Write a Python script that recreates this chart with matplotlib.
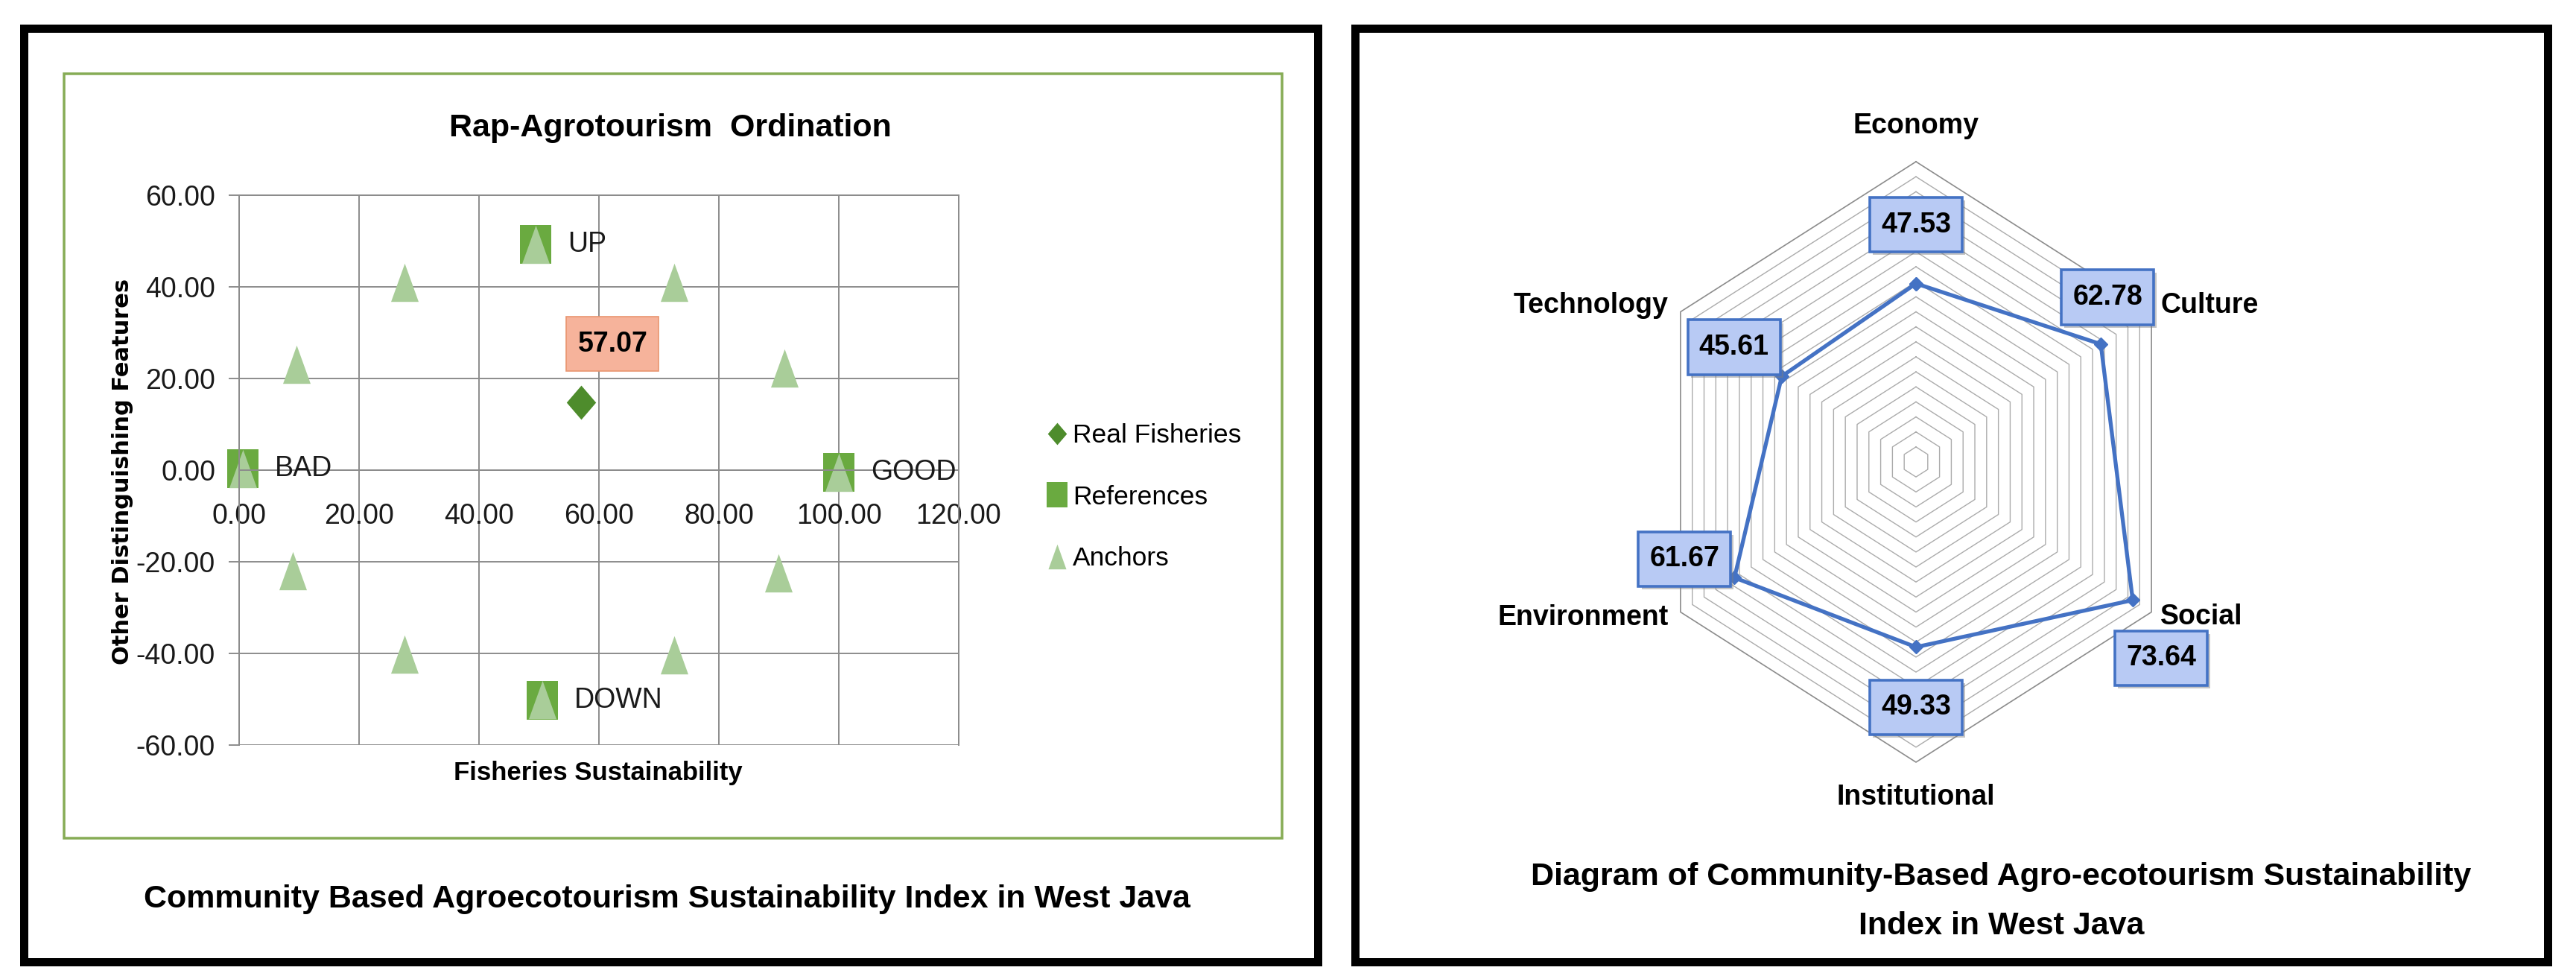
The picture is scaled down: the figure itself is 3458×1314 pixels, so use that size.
import numpy as np
import matplotlib

matplotlib.use("Agg")
import matplotlib.pyplot as plt
from matplotlib import patheffects
from matplotlib.patches import Rectangle
from matplotlib.path import Path


FIG_W = 3458
FIG_H = 1314
DPI = 100

# ordination (left panel)
real_x = [57.07]
real_y = [14.85]
real_label = "57.07"
ref_names = ["UP", "BAD", "GOOD", "DOWN"]
ref_x = [49.4, 0.6, 100.0, 50.5]
ref_y = [49.3, 0.4, -0.5, -50.3]
anchor_x = [49.4, 27.6, 72.5, 9.6, 90.9, 0.6, 100.0, 9.0, 89.9, 27.6, 72.5, 50.5]
anchor_y = [49.3, 40.9, 40.9, 23.1, 22.3, 0.4, -0.5, -22.0, -22.4, -40.2, -40.4, -50.1]
x_ticks = [0, 20, 40, 60, 80, 100, 120]
y_ticks = [-60, -40, -20, 0, 20, 40, 60]

# sustainability radar (right panel)
dimensions = ["Economy", "Culture", "Social", "Institutional", "Environment", "Technology"]
scores = [47.53, 62.78, 73.64, 49.33, 61.67, 45.61]
radar_max = 80
radar_step = 4

# layout, in pixels of the output image
value_offsets = [(0, 79), (9, 63), (38, -78), (0, -81), (-67, 25), (-64, 39)]
name_offsets = [(0, 48, "center"), (12, 8, "left"), (12, -7, "left"),
                (0, -47, "center"), (-16, -7, "right"), (-16, 8, "right")]

DIAMOND = [(0, 0.5), (0.43, 0), (0, -0.5), (-0.43, 0)]
SQUARE = [(-0.41, -0.5), (0.41, -0.5), (0.41, 0.5), (-0.41, 0.5)]
TRIANGLE = [(-0.36, -0.5), (0.36, -0.5), (0, 0.5)]

plt.rcParams["font.family"] = ["Liberation Sans", "DejaVu Sans"]


def fx(px):
    return px / FIG_W


def fy(py):
    return 1 - py / FIG_H


def frame(fig, x0, y0, x1, y1, color, width_px):
    fig.patches.append(
        Rectangle((fx(x0), fy(y1)), (x1 - x0) / FIG_W, (y1 - y0) / FIG_H,
                  transform=fig.transFigure, fill=False, edgecolor=color,
                  linewidth=width_px * 72 / DPI)
    )


def label_box(x0, y0, width, height, mutation_size, pad_x=0.4, pad_y=0.5):
    # data-label box, taller than a plain square pad would give
    px = pad_x * mutation_size
    py = pad_y * mutation_size
    left, bottom = x0 - px, y0 - py
    right, top = x0 + width + px, y0 + height + py
    return Path([(left, bottom), (right, bottom), (right, top), (left, top), (left, bottom)],
                closed=True)


def add_shadow(text):
    text.get_bbox_patch().set_path_effects(
        [patheffects.withSimplePatchShadow(offset=(3, -3), shadow_rgbFace="#7f7f7f", alpha=0.45)]
    )


fig = plt.figure(figsize=(FIG_W / DPI, FIG_H / DPI), dpi=DPI)

frame(fig, 32, 38, 1769, 1291, "black", 11)
frame(fig, 1819, 38, 3420, 1291, "black", 11)
frame(fig, 86, 99, 1721, 1125, "#86AC55", 3.5)

# ---- left: ordination scatter ----
grid_color = "#8C8C8C"
ax = fig.add_axes([fx(321), fy(1000), 966 / FIG_W, 738 / FIG_H])
ax.set_xlim(0, 120)
ax.set_ylim(-60, 60)
ax.set_xticks(x_ticks, [f"{v:.2f}" for v in x_ticks])
ax.set_yticks(y_ticks, [f"{v:.2f}" for v in y_ticks])
ax.grid(True, color=grid_color, linewidth=1.4)
ax.set_axisbelow(True)
for side in ["top", "right", "left", "bottom"]:
    ax.spines[side].set_color(grid_color)
    ax.spines[side].set_linewidth(1.4)
ax.spines["bottom"].set_position(("data", 0))
ax.tick_params(axis="x", length=0, pad=32, labelsize=27, labelcolor="#1a1a1a")
ax.tick_params(axis="y", length=10, width=1.4, color=grid_color, pad=13,
               labelsize=27, labelcolor="#1a1a1a")

real_line, = ax.plot(real_x, real_y, ls="none", marker=DIAMOND, ms=33,
                     color="#4E8C2C", mew=0, clip_on=False, label="Real Fisheries")
ref_line, = ax.plot(ref_x, ref_y, ls="none", marker=SQUARE, ms=37,
                    color="#6AAA40", mew=0, clip_on=False, label="References")
anchor_line, = ax.plot(anchor_x, anchor_y, ls="none", marker=TRIANGLE, ms=37,
                       color="#A9CD99", mew=0, clip_on=False, label="Anchors")

real_text = ax.annotate(real_label, (real_x[0], real_y[0]), xytext=(42, 78),
                        textcoords="offset pixels", ha="center", va="center",
                        fontsize=27, fontweight="bold",
                        bbox=dict(boxstyle=label_box, fc="#F6B39B", ec="#E9956F", lw=1.2))
for name, x, y in zip(ref_names, ref_x, ref_y):
    ax.annotate(name, (x, y), xytext=(43, 0), textcoords="offset pixels",
                ha="left", va="center", fontsize=27, color="#1a1a1a")

fig.legend(handles=[real_line, ref_line, anchor_line], loc="upper left",
           bbox_to_anchor=(fx(1406), fy(568)), frameon=False, fontsize=25.5,
           markerscale=0.65, handlelength=0.75, handletextpad=0.2,
           labelspacing=1.4, borderpad=0, borderaxespad=0)

fig.text(fx(900), fy(172), "Rap-Agrotourism  Ordination", ha="center", va="center",
         fontsize=31, fontweight="bold")
fig.text(fx(803), fy(1038), "Fisheries Sustainability", ha="center", va="center",
         fontsize=25, fontweight="bold")
fig.text(fx(165), fy(633), "Other Distinguishing Features", ha="center", va="center",
         rotation=90, fontsize=22, fontweight="bold", family="DejaVu Sans")
fig.text(fx(895), fy(1207),
         "Community Based Agroecotourism Sustainability Index in West Java",
         ha="center", va="center", fontsize=31, fontweight="bold")

# ---- right: radar ----
rax = fig.add_axes([fx(2207), fy(1023), 730 / FIG_W, 806 / FIG_H], projection="polar")
rax.set_theta_offset(np.pi / 2)
rax.set_theta_direction(-1)
rax.set_aspect("auto")
rax.set_ylim(0, radar_max)
rax.grid(False)
rax.set_xticks([])
rax.set_yticks([])
rax.spines["polar"].set_visible(False)

angles = np.arange(len(dimensions)) * 2 * np.pi / len(dimensions)
closed_angles = np.append(angles, angles[0])
for ring in np.arange(radar_step, radar_max + radar_step, radar_step):
    outer = ring == radar_max
    rax.plot(closed_angles, np.full(len(closed_angles), ring),
             color="#8C8C8C" if outer else "#ABABAB",
             linewidth=1.2 if outer else 1.0, clip_on=False)

rax.plot(closed_angles, scores + scores[:1], color="#4472C4", linewidth=3.8,
         marker="D", ms=9, clip_on=False)

for angle, value, (dx, dy) in zip(angles, scores, value_offsets):
    value_text = rax.annotate(f"{value:.2f}", (angle, value), xytext=(dx, dy),
                              textcoords="offset pixels", ha="center", va="center",
                              fontsize=27, fontweight="bold",
                              bbox=dict(boxstyle=label_box, fc="#B8CAF4", ec="#4472C4", lw=2.6))
    add_shadow(value_text)

for angle, name, (dx, dy, align) in zip(angles, dimensions, name_offsets):
    rax.annotate(name, (angle, radar_max), xytext=(dx, dy), textcoords="offset pixels",
                 ha=align, va="center", fontsize=27, fontweight="bold",
                 annotation_clip=False)

fig.text(fx(2686), fy(1177), "Diagram of Community-Based Agro-ecotourism Sustainability",
         ha="center", va="center", fontsize=31, fontweight="bold")
fig.text(fx(2687), fy(1243), "Index in West Java", ha="center", va="center",
         fontsize=31, fontweight="bold")

fig.savefig("out.png", dpi=DPI)
